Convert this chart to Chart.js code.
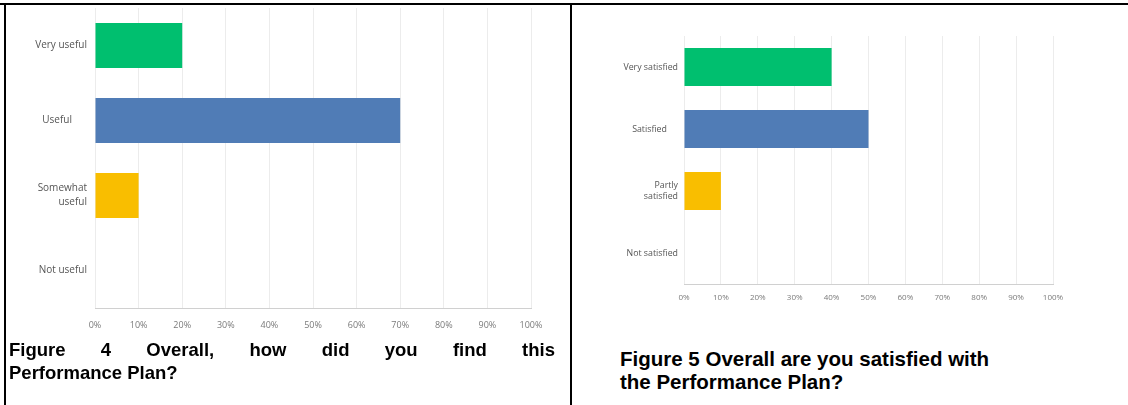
<!DOCTYPE html>
<html>
<head>
<meta charset="utf-8">
<script src="https://cdn.jsdelivr.net/npm/chart.js@4/dist/chart.umd.min.js"></script>
<style>
  html, body { margin: 0; padding: 0; background: #fff; }
  body { position: relative; width: 1128px; height: 405px; overflow: hidden; }
  .rule { position: absolute; background: #000; z-index: 2; }
  .panel { position: absolute; }
  .cap { position: absolute; font-family: "Liberation Sans", Arial, sans-serif; font-weight: bold; color: #000; }
  .cap .just { text-align: justify; text-align-last: justify; }
</style>
</head>
<body>

<div class="panel" style="left:6px; top:5px;"><canvas id="fig4" width="563" height="340"></canvas></div>
<div class="panel" style="left:572px; top:5px;"><canvas id="fig5" width="556" height="300"></canvas></div>

<!-- table rules framing the two figures -->
<div class="rule" style="left:0; top:3px; width:1128px; height:2px;"></div>
<div class="rule" style="left:4px; top:3px; width:2px; height:402px;"></div>
<div class="rule" style="left:570px; top:3px; width:2px; height:402px;"></div>

<div class="cap" style="left:9px; top:338px; width:546px; font-size:18.5px; line-height:23px;">
  <div class="just">Figure 4 Overall, how did you find this</div>
  <div>Performance Plan?</div>
</div>
<div class="cap" style="left:620px; top:347px; width:480px; font-size:20.5px; line-height:23px;">
  <div>Figure 5 Overall are you satisfied with</div>
  <div>the Performance Plan?</div>
</div>

<script>
// Answer shares (percent of respondents) for each question
const fig4Categories = ['Very useful', 'Useful\u2002\u2002\u2002', ['Somewhat', 'useful'], 'Not useful'];
const fig4Shares = [20, 70, 10, 0];

const fig5Categories = ['Very satisfied', 'Satisfied\u2002\u2002 ', ['Partly', 'satisfied'], 'Not satisfied'];
const fig5Shares = [40, 50, 10, 0];

const shareTicks = [0, 10, 20, 30, 40, 50, 60, 70, 80, 90, 100];
const answerColors = ['#00bf6f', '#507cb6', '#f9be00', '#507cb6'];

function surveyBar(canvasId, categories, shares, g) {
  return new Chart(document.getElementById(canvasId), {
    type: 'bar',
    data: {
      labels: categories,
      datasets: [{
        data: shares,
        backgroundColor: answerColors,
        borderWidth: 0,
        categoryPercentage: 1,
        barPercentage: g.bar
      }]
    },
    options: {
      indexAxis: 'y',
      responsive: false,
      animation: false,
      events: [],
      layout: { padding: { top: g.top, right: g.right, left: 0, bottom: 0 } },
      plugins: { legend: { display: false }, tooltip: { enabled: false } },
      scales: {
        x: {
          type: 'linear',
          min: 0,
          max: 100,
          afterBuildTicks: s => { s.ticks = shareTicks.map(v => ({ value: v })); },
          afterFit: s => { s.height = g.xHeight; },
          grid: { color: '#ececec', lineWidth: 1, drawTicks: false },
          border: { display: true, color: '#d0d0d0', width: 1 },
          ticks: {
            autoSkip: false,
            maxRotation: 0,
            padding: g.xPad,
            color: '#7a7a7a',
            font: { family: '"Open Sans", sans-serif', size: g.xFont },
            callback: (v, i) => shareTicks[i] + '%'
          }
        },
        y: {
          afterFit: s => {
            s.width = g.yWidth;
            // keep the category band flush with the layout padding
            s.paddingTop = 0;
            s.paddingBottom = 0;
          },
          grid: { display: false, drawTicks: false },
          border: { display: false },
          ticks: {
            autoSkip: false,
            padding: g.yPad,
            color: '#555',
            font: { family: '"Open Sans", sans-serif', size: g.yFont, lineHeight: g.yLine }
          }
        }
      }
    }
  });
}

surveyBar('fig4', fig4Categories, fig4Shares, {
  bar: 0.6, top: 3, right: 38, xHeight: 37, xPad: 12, xFont: 9,
  yWidth: 89, yPad: 8, yFont: 10, yLine: 1.4
});

surveyBar('fig5', fig5Categories, fig5Shares, {
  bar: 0.61, top: 31, right: 75, xHeight: 21, xPad: 9, xFont: 8,
  yWidth: 112, yPad: 6, yFont: 8.8, yLine: 1.3
});
</script>
</body>
</html>
